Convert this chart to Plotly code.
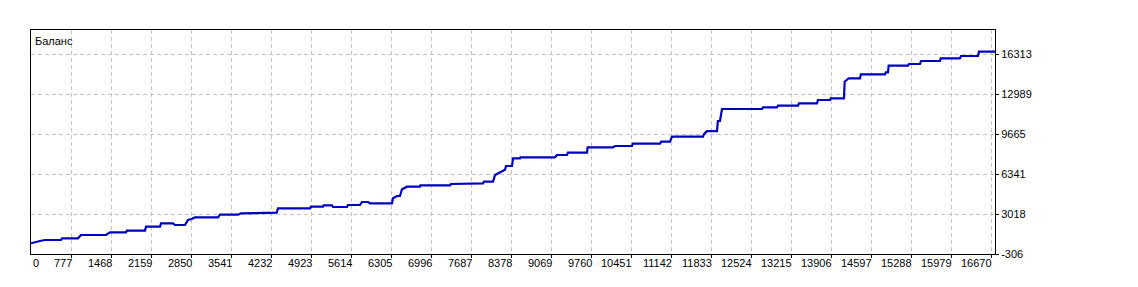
import plotly.graph_objects as go

# Balance curve breakpoints (trade number, balance)
trade_x = [74, 143, 229, 316, 592, 610, 886, 938, 1370, 1439, 1715, 1730, 2043, 2061, 2303,
           2320, 2527, 2562, 2734, 2786, 2850, 2907, 3305, 3339, 3650, 3702, 3996, 4318,
           4341, 4894, 4910, 5118, 5130, 5274, 5290, 5533, 5550, 5757, 5792, 5896, 5930, 6310,
           6327, 6397, 6448, 6483, 6570, 6794, 6800, 7312, 7330, 7433, 7450, 7882, 7900, 8055,
           8090, 8190, 8262, 8280, 8383, 8401, 8521, 8530, 9126, 9161, 9333, 9350, 9679,
           9690, 10128, 10163, 10457, 10470, 10940, 10960, 11113, 11147, 11683, 11700, 11750,
           11924, 11940, 11976, 12011, 12702, 12720, 12961, 12980, 13324, 13340, 13652, 13669,
           13876, 13890, 14118, 14130, 14200, 14395, 14410, 14827, 14840, 14878, 14890, 15224,
           15240, 15431, 15450, 15777, 15790, 16122, 16140, 16433, 16450, 16727]
balance = [583, 691, 775, 857, 857, 999, 999, 1273, 1273, 1497, 1497, 1630, 1630, 1963, 1963,
           2245, 2245, 2104, 2104, 2519, 2600, 2744, 2744, 2960, 2960, 3076, 3076, 3126,
           3492, 3492, 3625, 3625, 3741, 3741, 3600, 3600, 3766, 3766, 4015, 4015, 3908, 3908,
           4323, 4514, 4514, 5071, 5287, 5287, 5403, 5403, 5511, 5511, 5569, 5569, 5702, 5702,
           6259, 6533, 6700, 7007, 7007, 7647, 7647, 7730, 7730, 7921, 7921, 8112, 8112,
           8561, 8561, 8669, 8669, 8860, 8860, 9026, 9026, 9442, 9442, 9650, 9900,
           9900, 10746, 10746, 11744, 11744, 11885, 11885, 12018, 12018, 12217, 12217, 12491,
           12491, 12633, 12633, 14012, 14295, 14295, 14627, 14627, 14793, 14793, 15342, 15342,
           15483, 15483, 15732, 15732, 15956, 15956, 16148, 16148, 16505, 16505]

x_tick_vals = [777, 1468, 2159, 2850, 3541, 4232, 4923, 5614, 6305, 6996, 7687, 8378, 9069,
               9760, 10451, 11142, 11833, 12524, 13215, 13906, 14597, 15288, 15979, 16670]
x_tick_text = [str(v) for v in x_tick_vals]
y_tick_vals = [-306, 3018, 6341, 9665, 12989, 16313]
y_tick_text = [str(v) for v in y_tick_vals]
x_range = [74, 16727]
y_range = [-306, 18307]
title_text = "Баланс"

FONT = "Liberation Sans"
fig = go.Figure()
fig.add_trace(go.Scatter(x=trade_x, y=balance, mode="lines",
                         line=dict(color="#0000C0", width=2.2), hoverinfo="skip"))

annotations = []
for v, t in zip(x_tick_vals, x_tick_text):
    annotations.append(dict(x=v, y=0, xref="x", yref="paper", text=t, showarrow=False,
                            xanchor="right", yanchor="top", yshift=-1, xshift=2,
                            font=dict(family=FONT, size=11, color="#000000")))
annotations.append(dict(x=x_range[0], y=0, xref="x", yref="paper", text="0", showarrow=False,
                        xanchor="left", yanchor="top", yshift=-1, xshift=0,
                        font=dict(family=FONT, size=11, color="#000000")))
annotations.append(dict(x=0, y=1, xref="paper", yref="paper", text=title_text, showarrow=False,
                        xanchor="left", yanchor="top", xshift=2, yshift=-3,
                        font=dict(family=FONT, size=11, color="#000000")))

fig.update_layout(
    width=1138, height=287,
    margin=dict(l=31, r=143, t=30, b=33),
    paper_bgcolor="#FFFFFF", plot_bgcolor="#FFFFFF",
    showlegend=False,
    annotations=annotations,
    xaxis=dict(range=x_range, tickmode="array", tickvals=x_tick_vals, showticklabels=False,
               ticks="outside", ticklen=3, tickcolor="#000000", tickwidth=1,
               showgrid=True, gridcolor="#C4C4C4", griddash="4px,3px", gridwidth=1,
               showline=True, linecolor="#000000", linewidth=1, mirror=True, zeroline=False),
    yaxis=dict(range=y_range, side="right", tickmode="array", tickvals=y_tick_vals,
               ticktext=y_tick_text, ticks="outside", ticklen=3, tickcolor="#000000",
               tickfont=dict(family=FONT, size=11, color="#000000"),
               showgrid=True, gridcolor="#C4C4C4", griddash="4px,3px", gridwidth=1,
               showline=True, linecolor="#000000", linewidth=1, mirror=True, zeroline=False),
)

fig.write_html("out.html")
